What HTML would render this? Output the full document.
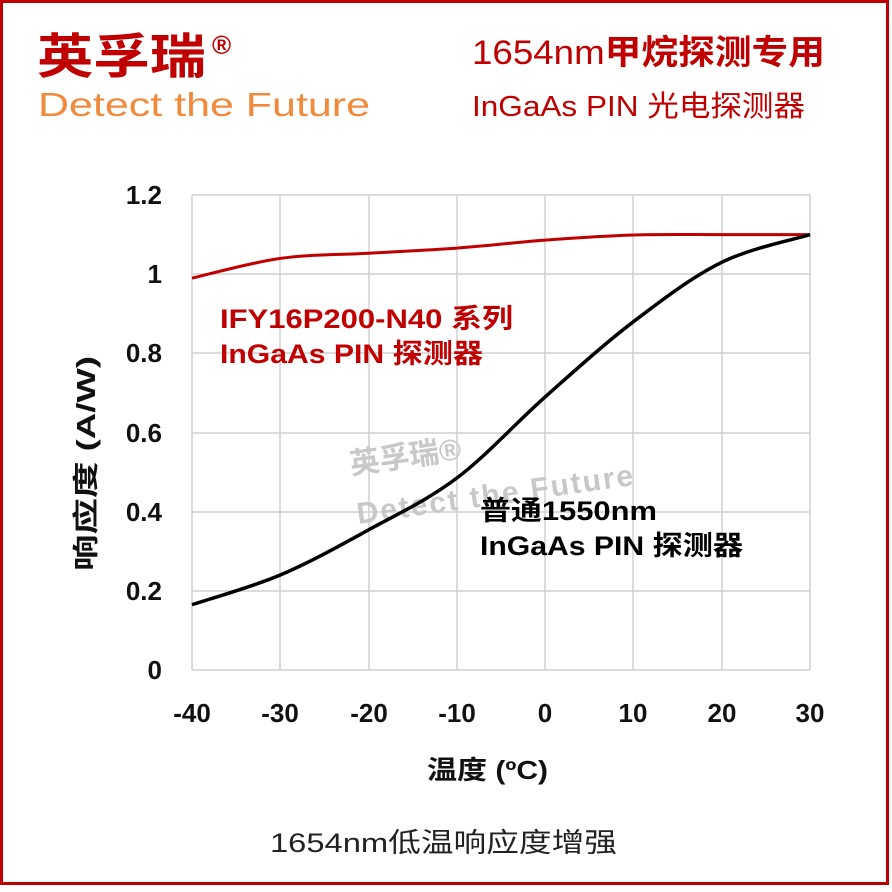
<!DOCTYPE html>
<html><head><meta charset="utf-8"><style>
body{margin:0;background:#fff;}
svg text{font-family:"Liberation Sans","Noto Sans CJK SC",sans-serif;}
</style></head><body>
<svg width="892" height="887" xmlns="http://www.w3.org/2000/svg">
<rect x="1.5" y="1.5" width="886" height="882" fill="#fff" stroke="#c00000" stroke-width="3"/>
<text x="37" y="73" font-size="48" font-weight="bold" fill="#c00000" textLength="169" lengthAdjust="spacingAndGlyphs">英孚瑞</text>
<text x="212" y="54" font-size="26" font-weight="bold" fill="#c00000">®</text>
<text x="38" y="116" font-size="33" fill="#f08a3c" textLength="332" lengthAdjust="spacingAndGlyphs">Detect the Future</text>
<text x="472" y="64" font-size="34" fill="#c00000" textLength="353" lengthAdjust="spacingAndGlyphs">1654nm<tspan font-weight="bold">甲烷探测专用</tspan></text>
<text x="472" y="116" font-size="29" fill="#c00000" textLength="333" lengthAdjust="spacingAndGlyphs">InGaAs PIN 光电探测器</text>
<g stroke="#d0d0d0" stroke-width="1.5">
<line x1="192" y1="195" x2="810" y2="195"/><line x1="192" y1="274" x2="810" y2="274"/>
<line x1="192" y1="353" x2="810" y2="353"/><line x1="192" y1="433" x2="810" y2="433"/>
<line x1="192" y1="512" x2="810" y2="512"/><line x1="192" y1="591" x2="810" y2="591"/>
<line x1="192" y1="195" x2="192" y2="670"/><line x1="280" y1="195" x2="280" y2="670"/>
<line x1="369" y1="195" x2="369" y2="670"/><line x1="457" y1="195" x2="457" y2="670"/>
<line x1="545" y1="195" x2="545" y2="670"/><line x1="633" y1="195" x2="633" y2="670"/>
<line x1="722" y1="195" x2="722" y2="670"/><line x1="810" y1="195" x2="810" y2="670"/>
</g>
<line x1="192" y1="670" x2="810" y2="670" stroke="#d0d0d0" stroke-width="1.5"/>
<g font-size="26" font-weight="bold" fill="#111" text-anchor="end">
<text x="162" y="204">1.2</text><text x="162" y="283">1</text><text x="162" y="362">0.8</text>
<text x="162" y="442">0.6</text><text x="162" y="521">0.4</text><text x="162" y="600">0.2</text>
<text x="162" y="679">0</text></g>
<g font-size="26" font-weight="bold" fill="#111" text-anchor="middle">
<text x="192" y="722">-40</text><text x="280" y="722">-30</text><text x="369" y="722">-20</text>
<text x="457" y="722">-10</text><text x="545" y="722">0</text><text x="633" y="722">10</text>
<text x="722" y="722">20</text><text x="810" y="722">30</text></g>
<text transform="translate(95,356) rotate(-90)" x="-215" y="0" font-size="26" font-weight="bold" fill="#111" textLength="215" lengthAdjust="spacingAndGlyphs">响应度 (A/W)</text>
<text x="427" y="779" font-size="26" font-weight="bold" fill="#111" textLength="121" lengthAdjust="spacingAndGlyphs">温度 (ºC)</text>
<text x="270" y="852" font-size="27" fill="#222" textLength="347" lengthAdjust="spacingAndGlyphs">1654nm低温响应度增强</text>
<g transform="rotate(-8 490 470)" fill="#c8c8c8" font-weight="bold">
<text x="352" y="455" font-size="30">英孚瑞®</text>
<text x="352" y="505" font-size="30" letter-spacing="2">Detect the Future</text></g>
<path id="red" fill="none" stroke="#c00000" stroke-width="3"/>
<path id="blk" fill="none" stroke="#000" stroke-width="3.5"/>
<text x="220" y="328" font-size="27" font-weight="bold" fill="#c00000" textLength="293" lengthAdjust="spacingAndGlyphs">IFY16P200-N40 系列</text>
<text x="220" y="363" font-size="27" font-weight="bold" fill="#c00000" textLength="263" lengthAdjust="spacingAndGlyphs">InGaAs PIN 探测器</text>
<text x="480" y="520" font-size="27" font-weight="bold" fill="#000" textLength="177" lengthAdjust="spacingAndGlyphs">普通1550nm</text>
<text x="480" y="555" font-size="27" font-weight="bold" fill="#000" textLength="263" lengthAdjust="spacingAndGlyphs">InGaAs PIN 探测器</text>
</svg>
<script>
function X(t){return 192+(t+40)*618/70;}function Y(v){return 670-v*395.8;}
function cr(pts){var p=pts.map(function(a){return [X(a[0]),Y(a[1])];});var d="M"+p[0][0]+","+p[0][1];
for(var i=0;i<p.length-1;i++){var p0=p[i-1]||p[i],p1=p[i],p2=p[i+1],p3=p[i+2]||p2;
d+=" C"+(p1[0]+(p2[0]-p0[0])/6)+","+(p1[1]+(p2[1]-p0[1])/6)+" "+(p2[0]-(p3[0]-p1[0])/6)+","+(p2[1]-(p3[1]-p1[1])/6)+" "+p2[0]+","+p2[1];}return d;}
document.getElementById("blk").setAttribute("d",cr([[-40,0.165],[-30,0.24],[-20,0.354],[-10,0.485],[0,0.69],[10,0.88],[20,1.03],[30,1.1]]));
document.getElementById("red").setAttribute("d",cr([[-40,0.99],[-30,1.04],[-20,1.053],[-10,1.066],[0,1.086],[10,1.099],[20,1.1],[30,1.1]]));
</script>
</body></html>
